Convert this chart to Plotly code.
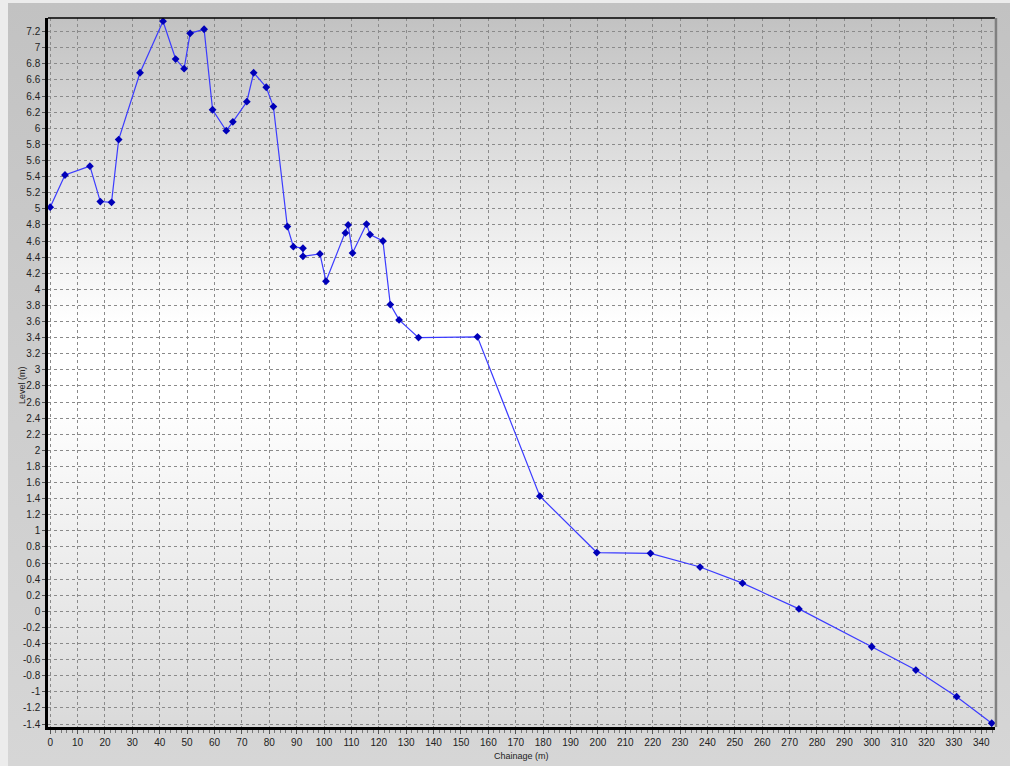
import base64
import plotly.graph_objects as go

# ---- data ----
chainage = [0, 5.4, 14.5, 18.3, 22.4, 25.0, 32.8, 41.2, 45.8, 48.9, 51.1, 56.2, 59.3,
            64.3, 66.7, 71.8, 74.3, 78.9, 81.5, 86.6, 88.8, 92.3, 92.3, 98.5, 100.7,
            107.8, 108.8, 110.4, 115.5, 116.8, 121.5, 124.2, 127.4, 134.5, 156.0,
            178.8, 199.6, 219.2, 237.3, 252.8, 273.4, 300.0, 316.1, 331.0, 343.8]
level = [5.02, 5.42, 5.53, 5.09, 5.08, 5.86, 6.69, 7.33, 6.86, 6.74, 7.18, 7.23, 6.23,
         5.97, 6.08, 6.33, 6.69, 6.51, 6.27, 4.78, 4.53, 4.51, 4.41, 4.44, 4.10,
         4.70, 4.80, 4.45, 4.81, 4.68, 4.60, 3.81, 3.62, 3.40, 3.41,
         1.43, 0.73, 0.72, 0.55, 0.35, 0.03, -0.44, -0.73, -1.06, -1.39]

x_ticks = list(range(0, 341, 10))
x_labels = [str(v) for v in x_ticks]
y_ticks = [round(v / 10, 1) for v in range(-14, 73, 2)]
y_labels = ["{:g}".format(v) for v in y_ticks]

x_title = "Chainage (m)"
y_title = "Level (m)"

X_RANGE = [-0.8, 345.0]
Y_RANGE = [-1.437, 7.37]

FONT = "Liberation Sans Narrow, Liberation Sans, Arial, sans-serif"


def gradient_uri(stops):
    s = "".join('<stop offset="%g" stop-color="%s"/>' % (o, c) for o, c in stops)
    svg = ('<svg xmlns="http://www.w3.org/2000/svg" width="100" height="100" '
           'preserveAspectRatio="none"><defs><linearGradient id="g" x1="0" y1="0" '
           'x2="0" y2="1">' + s + '</linearGradient></defs>'
           '<rect x="0" y="0" width="100" height="100" fill="url(#g)"/></svg>')
    return "data:image/svg+xml;base64," + base64.b64encode(svg.encode()).decode()


fig = go.Figure()
fig.add_trace(go.Scatter(
    x=chainage, y=level, mode="lines+markers",
    line=dict(color="#3b3bff", width=1.2),
    marker=dict(symbol="diamond", size=6, color="#0000b8"),
    showlegend=False, hoverinfo="x+y",
))

# plot area = 48..995 x 18..727 px
W, H = 947.0, 709.0
def px_x(px):
    return (px - 48) / W
def px_y(py):
    return (727 - py) / H

images = [
    # outer panel
    dict(source=gradient_uri([(0, "#c2c2c2"), (0.5, "#cdcdcd"), (1, "#d6d6d6")]),
         xref="paper", yref="paper", x=px_x(8), y=px_y(3),
         sizex=px_x(1010) - px_x(8), sizey=px_y(3) - px_y(766),
         sizing="stretch", xanchor="left", yanchor="top", layer="below"),
    # plot area
    dict(source=gradient_uri([(0, "#c2c2c2"), (0.43, "#ffffff"), (0.54, "#ffffff"),
                              (1, "#dadada")]),
         xref="paper", yref="paper", x=0, y=1, sizex=1, sizey=1,
         sizing="stretch", xanchor="left", yanchor="top", layer="below"),
]

shapes = [
    dict(type="line", xref="paper", yref="paper", layer="above",
         x0=0, x1=1, y0=1, y1=1, line=dict(color="#000000", width=1.5)),
    dict(type="line", xref="paper", yref="paper", layer="above",
         x0=1.001, x1=1.001, y0=0, y1=1, line=dict(color="#808080", width=2.5)),
]

annotations = [
    dict(text=y_title, xref="paper", yref="paper", x=px_x(22), y=px_y(385),
         xanchor="center", yanchor="middle", textangle=-90, showarrow=False,
         font=dict(family=FONT, size=9, color="#222222")),
    dict(text=x_title, xref="paper", yref="paper", x=px_x(521), y=px_y(756),
         xanchor="center", yanchor="middle", showarrow=False,
         font=dict(family=FONT, size=9, color="#222222")),
]

fig.update_layout(
    width=1010, height=766,
    margin=dict(l=48, r=15, t=18, b=39),
    paper_bgcolor="#ececec",
    plot_bgcolor="rgba(0,0,0,0)",
    font=dict(family=FONT, size=10, color="#222222"),
    images=images,
    shapes=shapes,
    annotations=annotations,
    xaxis=dict(
        range=X_RANGE, tickmode="array", tickvals=x_ticks, ticktext=x_labels,
        automargin=False,
        showgrid=True, gridcolor="#8a8a8a", gridwidth=1, griddash="3px,3px",
        zeroline=False, showline=True, linecolor="#000000", linewidth=2.5,
        ticks="outside", ticklen=4, tickcolor="#555555",
        minor=dict(dtick=2, tick0=0, ticks="outside", ticklen=3, tickcolor="#777777", showgrid=False),
        tickfont=dict(family=FONT, size=10, color="#222222"),
    ),
    yaxis=dict(
        range=Y_RANGE, tickmode="array", tickvals=y_ticks, ticktext=y_labels,
        automargin=False,
        showgrid=True, gridcolor="#8a8a8a", gridwidth=1, griddash="3px,3px",
        zeroline=False, showline=True, linecolor="#000000", linewidth=2.5,
        ticks="outside", ticklen=3, tickcolor="#555555",
        tickfont=dict(family=FONT, size=10, color="#222222"),
    ),
)

fig.write_html("out.html", config={"displayModeBar": False},
               post_script="document.body.style.margin='0';document.body.style.overflow='hidden';")
